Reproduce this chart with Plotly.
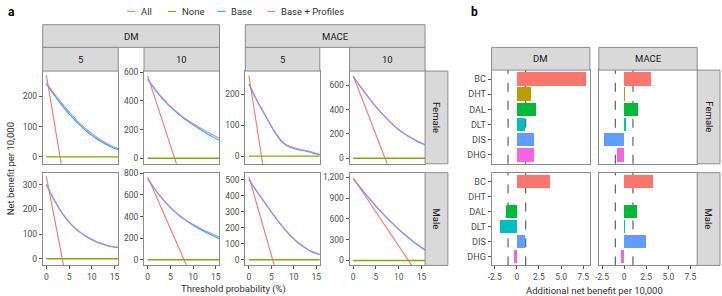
import plotly.graph_objects as go

W, H = 722, 296
FONT = "Roboto"
C_ALL, C_NONE, C_BASE, C_PROF = "#F8766D", "#7CAE00", "#00BFC4", "#C77CFF"
BORDER = "#8c8c8c"
STRIP = "#d9d9d9"
TXT = "#333333"

# ---------------- data: panel a (net benefit per 10,000) ----------------
thresholds = [0, 1, 2, 3, 4, 5, 6, 7, 8, 9, 10, 11, 12, 13, 14, 15, 16]
all_thresholds = [0, 4, 8, 12, 16]
none_thresholds = [0, 16]
none_values = [0, 0]

fem_dm5_all = [271, -89, -449, -809, -1169]
fem_dm5_base = [242, 220, 199, 179, 160, 142, 126, 110, 96, 83, 71, 60, 51, 42, 35, 28, 23]
fem_dm5_prof = [245, 224, 204, 185, 166, 149, 132, 116, 102, 89, 77, 66, 56, 47, 39, 32, 26]

fem_dm10_all = [575, 187, -201, -589, -977]
fem_dm10_base = [550, 506, 464, 426, 391, 359, 330, 303, 278, 255, 233, 212, 192, 173, 155, 137, 121]
fem_dm10_prof = [555, 510, 468, 430, 395, 363, 334, 308, 284, 262, 241, 222, 204, 186, 169, 152, 137]

fem_mace5_all = [261, -111, -483, -855, -1227]
fem_mace5_base = [233, 203, 174, 148, 122, 96, 72, 52, 38, 30, 25, 21, 18, 15, 11, 7, 4]
fem_mace5_prof = [235, 205, 176, 150, 124, 98, 74, 54, 40, 32, 27, 23, 20, 17, 13, 9, 5]

fem_mace10_all = [678, 290, -98, -486, -874]
fem_mace10_base = [671, 618, 566, 516, 468, 422, 379, 339, 301, 266, 234, 206, 182, 160, 140, 122, 106]
fem_mace10_prof = [673, 620, 568, 518, 470, 424, 381, 341, 303, 268, 236, 209, 185, 164, 144, 126, 110]

male_dm5_all = [333, -47, -427, -807, -1187]
male_dm5_base = [300, 263, 229, 198, 171, 148, 128, 112, 99, 87, 77, 68, 61, 55, 50, 47, 45]
male_dm5_prof = [302, 265, 231, 200, 173, 150, 130, 114, 101, 89, 79, 70, 63, 57, 52, 48, 46]

male_dm10_all = [769, 385, 1, -383, -767]
male_dm10_base = [750, 688, 630, 576, 528, 484, 444, 408, 376, 347, 320, 295, 272, 251, 230, 210, 190]
male_dm10_prof = [752, 690, 632, 578, 530, 486, 446, 410, 379, 351, 326, 303, 282, 262, 243, 224, 206]

male_mace5_all = [520, 128, -264, -656, -1048]
male_mace5_base = [503, 460, 418, 378, 338, 298, 260, 224, 190, 158, 130, 105, 84, 66, 51, 40, 32]
male_mace5_prof = [505, 462, 420, 380, 340, 300, 262, 226, 192, 160, 132, 107, 86, 68, 53, 42, 34]

male_mace10_all = [1190, 798, 406, 14, -378]
male_mace10_base = [1178, 1096, 1015, 936, 859, 784, 712, 642, 575, 510, 448, 389, 333, 280, 230, 183, 139]
male_mace10_prof = [1180, 1098, 1017, 938, 861, 786, 714, 644, 577, 513, 452, 394, 339, 287, 238, 192, 150]

x_ticks_a = [0, 5, 10, 15]
y_ticks_fem_dm5 = [0, 100, 200]
y_ticks_fem_dm10 = [0, 200, 400, 600]
y_ticks_fem_mace5 = [0, 100, 200]
y_ticks_fem_mace10 = [0, 200, 400, 600]
y_ticks_male_dm5 = [0, 100, 200, 300]
y_ticks_male_dm10 = [0, 200, 400, 600, 800]
y_ticks_male_mace5 = [0, 100, 200, 300, 400, 500]
y_ticks_male_mace10 = [0, 300, 600, 900, 1200]
y_labels_male_mace10 = ["0", "300", "600", "900", "1,200"]

outcomes = ["DM", "MACE"]
horizons = ["5", "10"]
sexes = ["Female", "Male"]

# ---------------- data: panel b (additional net benefit per 10,000) ----------------
categories = ["BC", "DHT", "DAL", "DLT", "DIS", "DHG"]
cat_colors = ["#F8766D", "#B79F00", "#00BA38", "#00BFC4", "#619CFF", "#F564E3"]
dm_female = [7.8, 1.6, 2.2, 0.95, 1.95, 1.93]
mace_female = [3.0, 0.1, 1.6, 0.25, -2.3, -0.8]
dm_male = [3.8, 0.0, -1.18, -1.93, 0.92, -0.3]
mace_male = [3.25, 0.0, 1.5, 0.05, 2.45, -0.33]
ref_lines = [-1, 1]
x_ticks_b = [-2.5, 0, 2.5, 5, 7.5]
x_labels_b = ["-2.5", "0", "2.5", "5.0", "7.5"]


def px(x):
    return x / W


def py(y):
    return 1 - y / H


fig = go.Figure()
layout = {}
shapes = []
annotations = []

# pixel layout
cols_a = [(39, 115), (141, 217), (243, 318), (348, 424)]
rows_px = [(68, 162), (171, 265)]
cols_b = [(491, 590), (599, 698)]

panels_a = [
    (0, 0, fem_dm5_all, fem_dm5_base, fem_dm5_prof, y_ticks_fem_dm5, None, [-23, 284]),
    (0, 1, fem_dm10_all, fem_dm10_base, fem_dm10_prof, y_ticks_fem_dm10, None, [-39, 609]),
    (0, 2, fem_mace5_all, fem_mace5_base, fem_mace5_prof, y_ticks_fem_mace5, None, [-25, 276]),
    (0, 3, fem_mace10_all, fem_mace10_base, fem_mace10_prof, y_ticks_fem_mace10, None, [-46, 716]),
    (1, 0, male_dm5_all, male_dm5_base, male_dm5_prof, y_ticks_male_dm5, None, [-27, 349]),
    (1, 1, male_dm10_all, male_dm10_base, male_dm10_prof, y_ticks_male_dm10, None, [-52, 806]),
    (1, 2, male_mace5_all, male_mace5_base, male_mace5_prof, y_ticks_male_mace5, None, [-35, 545]),
    (1, 3, male_mace10_all, male_mace10_base, male_mace10_prof, y_ticks_male_mace10, y_labels_male_mace10, [-71, 1267]),
]

tickfont = dict(family=FONT, size=8.5, color="#4d4d4d")


def axis_names(n):
    return ("xaxis" if n == 1 else f"xaxis{n}", "yaxis" if n == 1 else f"yaxis{n}",
            "x" if n == 1 else f"x{n}", "y" if n == 1 else f"y{n}")


for r, c, av, bv, pv, yt, yl, yr in panels_a:
    n = r * 4 + c + 1
    xk, yk, xr, yrf = axis_names(n)
    x0, x1 = cols_a[c]
    y0, y1 = rows_px[r]
    fig.add_trace(go.Scatter(x=all_thresholds, y=av, mode="lines", line=dict(color=C_ALL, width=1.1),
                             xaxis=xr, yaxis=yrf, showlegend=False, hoverinfo="skip"))
    fig.add_trace(go.Scatter(x=none_thresholds, y=none_values, mode="lines", line=dict(color=C_NONE, width=1.4),
                             xaxis=xr, yaxis=yrf, showlegend=False, hoverinfo="skip"))
    fig.add_trace(go.Scatter(x=thresholds, y=bv, mode="lines", line=dict(color=C_BASE, width=1.1, shape="spline", smoothing=0.6),
                             xaxis=xr, yaxis=yrf, showlegend=False, hoverinfo="skip"))
    fig.add_trace(go.Scatter(x=thresholds, y=pv, mode="lines", line=dict(color=C_PROF, width=1.1, shape="spline", smoothing=0.6),
                             xaxis=xr, yaxis=yrf, showlegend=False, hoverinfo="skip"))
    bottom = r == 1
    layout[xk] = dict(domain=[px(x0), px(x1)], range=[-0.8, 15.8], anchor=yrf,
                      tickvals=x_ticks_a, showticklabels=bottom, ticks="outside" if bottom else "",
                      ticklen=3, tickcolor="#555", tickfont=tickfont,
                      showline=True, mirror=True, linecolor=BORDER, linewidth=1,
                      showgrid=False, zeroline=False)
    layout[yk] = dict(domain=[py(y1), py(y0)], range=yr, anchor=xr,
                      tickvals=yt, ticktext=yl if yl else [str(v) for v in yt],
                      ticks="outside", ticklen=3, tickcolor="#555", tickfont=tickfont,
                      showline=True, mirror=True, linecolor=BORDER, linewidth=1,
                      showgrid=False, zeroline=False)

# panel b
bar_sets = [(0, 0, dm_female), (0, 1, mace_female), (1, 0, dm_male), (1, 1, mace_male)]
for r, c, vals in bar_sets:
    n = 9 + r * 2 + c
    xk, yk, xr, yrf = axis_names(n)
    x0, x1 = cols_b[c]
    y0, y1 = rows_px[r]
    y0 = y0 - 1 if r == 0 else y0
    fig.add_trace(go.Bar(x=vals, y=categories, orientation="h", width=0.9,
                         marker=dict(color=cat_colors, line=dict(width=0)),
                         xaxis=xr, yaxis=yrf, showlegend=False, hoverinfo="skip"))
    bottom = r == 1
    left = c == 0
    layout[xk] = dict(domain=[px(x0), px(x1)], range=[-2.86, 8.26], anchor=yrf,
                      tickvals=x_ticks_b, ticktext=x_labels_b, showticklabels=bottom,
                      ticks="outside" if bottom else "", ticklen=3, tickcolor="#555", tickfont=tickfont,
                      showline=True, mirror=True, linecolor=BORDER, linewidth=1,
                      showgrid=False, zeroline=False)
    layout[yk] = dict(domain=[py(y1), py(y0)], type="category", categoryorder="array",
                      categoryarray=categories, range=[5.6, -0.6], anchor=xr,
                      showticklabels=left, ticks="outside" if left else "", ticklen=3,
                      tickcolor="#555", tickfont=dict(family=FONT, size=9, color="#4d4d4d"),
                      showline=True, mirror=True, linecolor=BORDER, linewidth=1,
                      showgrid=False, zeroline=False)
    for v in ref_lines:
        shapes.append(dict(type="line", xref=xr, yref=f"{yrf} domain", x0=v, x1=v, y0=0, y1=1,
                           line=dict(color="#404040", width=1, dash="dash"), layer="below"))


def rect(x0, y0, x1, y1):
    shapes.append(dict(type="rect", xref="paper", yref="paper", x0=px(x0), x1=px(x1), y0=py(y1), y1=py(y0),
                       fillcolor=STRIP, line=dict(color=BORDER, width=1), layer="above"))


def label(text, x, y, size=9.5, angle=0, color="#1a1a1a", bold=False, xanchor="center"):
    annotations.append(dict(text=f"<b>{text}</b>" if bold else text, x=px(x), y=py(y), xref="paper", yref="paper",
                            showarrow=False, textangle=angle, xanchor=xanchor, yanchor="middle",
                            font=dict(family=FONT, size=size, color=color)))


# strips panel a
rect(39, 21, 217, 44); label(outcomes[0], 128, 33)
rect(243, 21, 424, 44); label(outcomes[1], 333.5, 33)
for i, (x0, x1) in enumerate(cols_a):
    rect(x0, 44, x1, 68)
    label(horizons[i % 2], (x0 + x1) / 2, 56)
for i, (y0, y1) in enumerate(rows_px):
    rect(424, y0, 447, y1)
    label(sexes[i], 435.5, (y0 + y1) / 2, angle=90)
# strips panel b
for i, (x0, x1) in enumerate(cols_b):
    rect(x0, 44, x1, 67)
    label(outcomes[i], (x0 + x1) / 2, 55.5)
for i, (y0, y1) in enumerate(rows_px):
    yy0 = y0 - 1 if i == 0 else y0
    rect(698, yy0, 721, y1)
    label(sexes[i], 709.5, (yy0 + y1) / 2, angle=90)

# titles
label("a", 2, 8, size=12, bold=True, color="#000", xanchor="left")
label("b", 468, 8, size=12, bold=True, color="#000", xanchor="left")
label("Threshold probability (%)", 231.5, 289, size=9.5, color=TXT)
label("Net benefit per 10,000", 6, 166.5, size=9.5, angle=-90, color=TXT)
label("Additional net benefit per 10,000", 595, 290, size=9.5, color=TXT)

# legend (manual)
legend_items = [("All", C_ALL, 124), ("None", C_NONE, 165), ("Base", C_BASE, 215), ("Base + Profiles", C_PROF, 265)]
for name, col, lx in legend_items:
    shapes.append(dict(type="line", xref="paper", yref="paper", x0=px(lx), x1=px(lx + 8), y0=py(7.5), y1=py(7.5),
                       line=dict(color=col, width=1.1)))
    label(name, lx + 12, 7.5, size=9.5, color=TXT, xanchor="left")

fig.update_layout(**layout)
fig.update_layout(width=W, height=H, margin=dict(l=0, r=0, t=0, b=0),
                  paper_bgcolor="white", plot_bgcolor="white", bargap=0,
                  shapes=shapes, annotations=annotations,
                  font=dict(family=FONT, size=9.5, color=TXT))
fig.write_html("out.html", config={"displayModeBar": False, "staticPlot": True},
               post_script="document.body.style.margin='0';document.body.style.overflow='hidden';")
